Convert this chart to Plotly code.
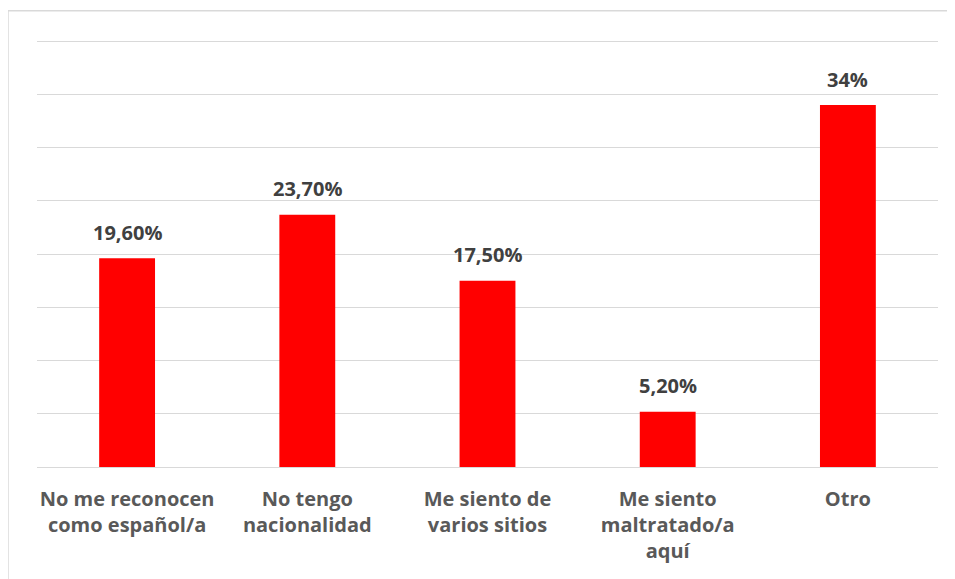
import plotly.graph_objects as go

categories = ["No me reconocen<br>como español/a", "No tengo<br>nacionalidad",
              "Me siento de<br>varios sitios", "Me siento<br>maltratado/a<br>aquí", "Otro"]
values = [19.6, 23.7, 17.5, 5.2, 34.0]
value_labels = ["19,60%", "23,70%", "17,50%", "5,20%", "34%"]
x_pos = list(range(len(categories)))

FONT = "Open Sans"

fig = go.Figure()
fig.add_trace(go.Bar(
    x=x_pos, y=values, marker=dict(color="#ff0000", line=dict(width=0)),
    width=0.31, hoverinfo="skip",
))

for xi, v, lab in zip(x_pos, values, value_labels):
    fig.add_annotation(x=xi, y=v, text=f"<b>{lab}</b>", showarrow=False,
                       yanchor="middle", yshift=26,
                       font=dict(family=FONT, size=20, color="#404040"))

fig.add_shape(type="rect", xref="paper", yref="paper",
              x0=-0.0322, x1=1.2, y0=-0.6, y1=1.066,
              line=dict(color="#d9d9d9", width=1.5), fillcolor="rgba(0,0,0,0)",
              layer="below")

fig.update_layout(
    width=947, height=571,
    margin=dict(l=29, r=17, t=31, b=112, pad=0),
    paper_bgcolor="white", plot_bgcolor="white",
    showlegend=False,
    font=dict(family=FONT),
    xaxis=dict(
        tickmode="array", tickvals=x_pos,
        ticktext=[f"<b>{c}</b>" for c in categories],
        range=[-0.5, len(categories) - 0.5],
        showgrid=False, zeroline=False, showline=False, ticks="",
        tickfont=dict(family=FONT, size=20, color="#595959"),
        ticklabelstandoff=18,
    ),
    yaxis=dict(
        range=[0, 40.2], tickmode="array", tickvals=[5, 10, 15, 20, 25, 30, 35, 40],
        showticklabels=False,
        showgrid=True, gridcolor="#d9d9d9", gridwidth=1.3,
        zeroline=True, zerolinecolor="#d9d9d9", zerolinewidth=1.3,
        showline=False, ticks="",
    ),
)

fig.write_html("out.html")
